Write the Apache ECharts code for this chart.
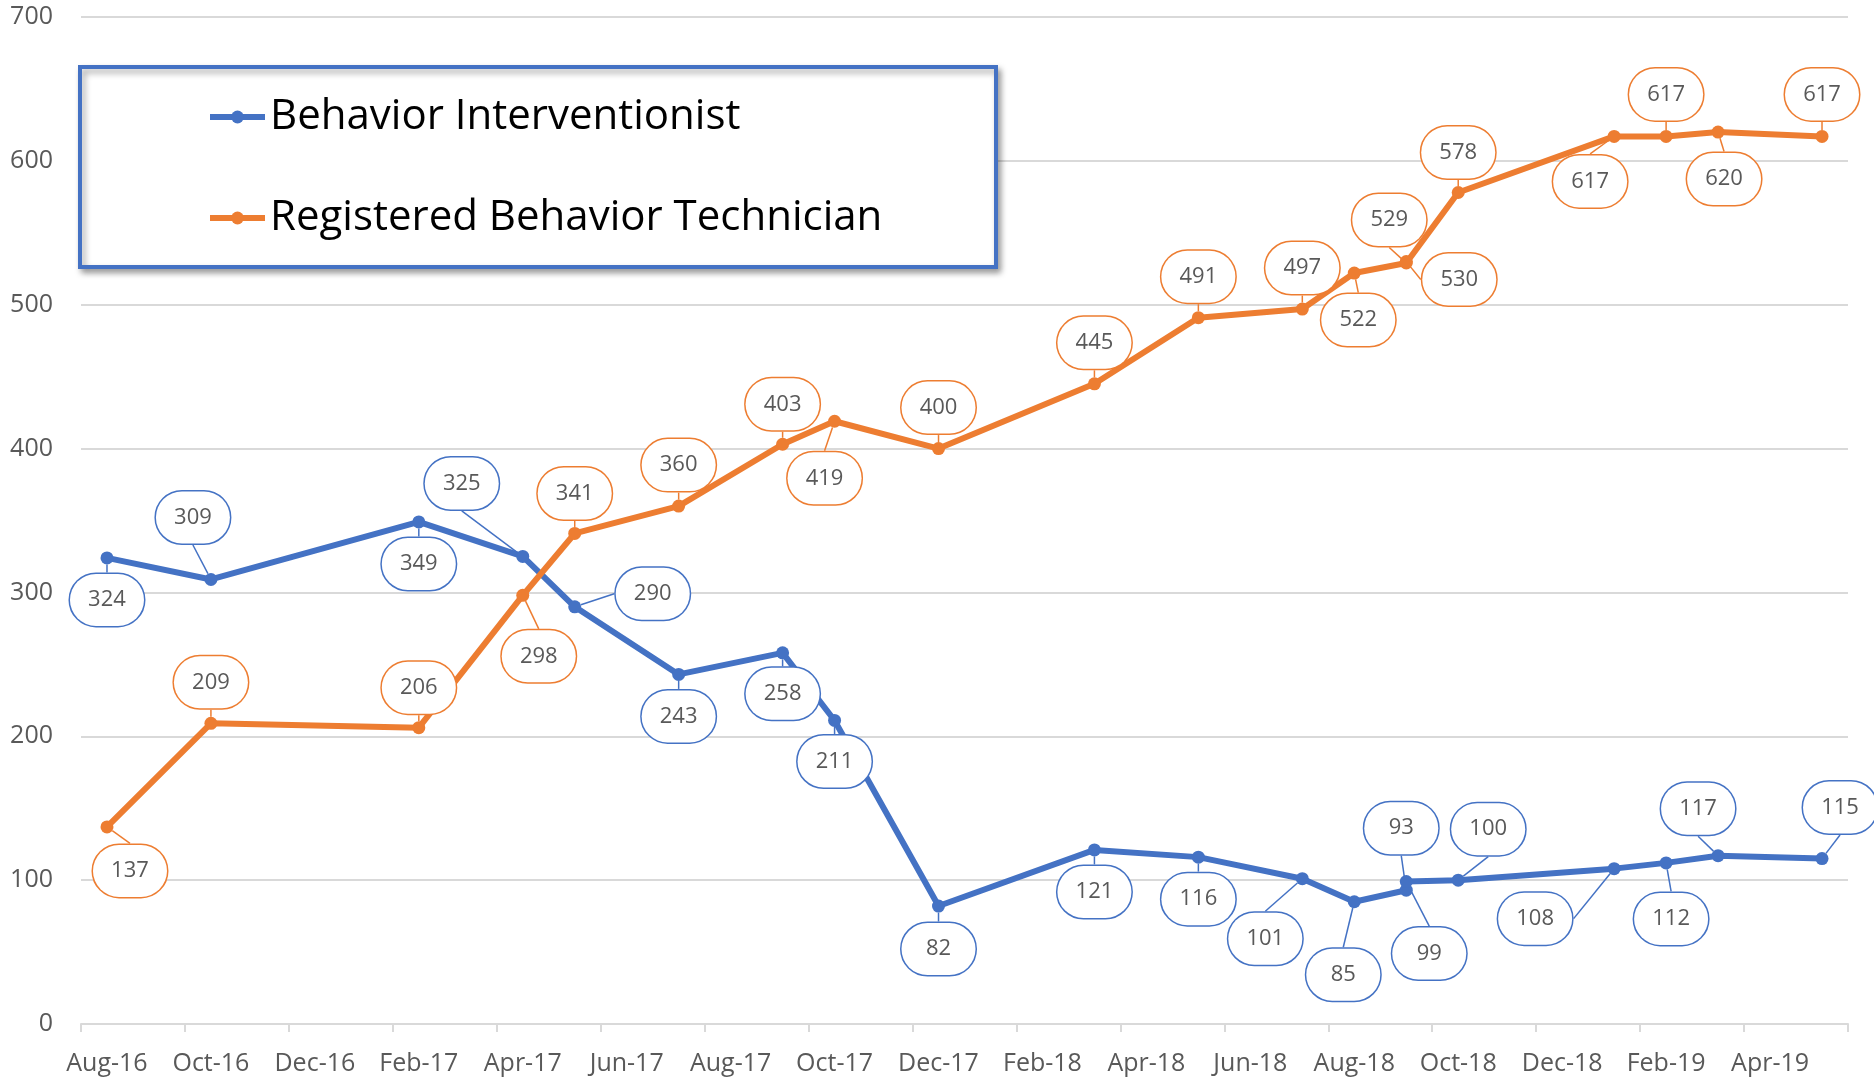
<!DOCTYPE html>
<html>
<head>
<meta charset="utf-8">
<script src="https://cdn.jsdelivr.net/npm/echarts@6/dist/echarts.min.js"></script>
<style>
  html, body { margin: 0; padding: 0; background: #fff; }
  #myChart { width: 1874px; height: 1081px; }
</style>
</head>
<body>
<div id="myChart"></div>
<script>
// months on the date axis (one category per month)
var months = [
  'Aug-16', 'Sep-16', 'Oct-16', 'Nov-16', 'Dec-16', 'Jan-17', 'Feb-17', 'Mar-17',
  'Apr-17', 'May-17', 'Jun-17', 'Jul-17', 'Aug-17', 'Sep-17', 'Oct-17', 'Nov-17',
  'Dec-17', 'Jan-18', 'Feb-18', 'Mar-18', 'Apr-18', 'May-18', 'Jun-18', 'Jul-18',
  'Aug-18', 'Sep-18', 'Oct-18', 'Nov-18', 'Dec-18', 'Jan-19', 'Feb-19', 'Mar-19',
  'Apr-19', 'May-19'
];

// dates of the observations (two in Sep-18)
var obsMonths = [
  'Aug-16', 'Oct-16', 'Feb-17', 'Apr-17', 'May-17', 'Jul-17', 'Sep-17', 'Oct-17',
  'Dec-17', 'Mar-18', 'May-18', 'Jul-18', 'Aug-18', 'Sep-18', 'Sep-18', 'Oct-18',
  'Jan-19', 'Feb-19', 'Mar-19', 'May-19'
];

var biValues = [324, 309, 349, 325, 290, 243, 258, 211, 82, 121, 116, 101, 85, 93, 99, 100, 108, 112, 117, 115];
var rbtValues = [137, 209, 206, 298, 341, 360, 403, 419, 400, 445, 491, 497, 522, 529, 530, 578, 617, 617, 620, 617];

// callout offsets (label centre relative to the point, px)
var biOffsets = [
  [0, 42], [-18, -62], [0, 42], [-61, -73], [78, -13], [0, 42], [0, 41], [0, 41],
  [0, 43], [0, 42], [0, 42], [-37, 60], [-11, 73], [-5, -62], [23, 72], [30, -51],
  [-79, 50], [5, 56], [-20, -47], [18, -51]
];
var rbtOffsets = [
  [23, 44], [0, -41], [0, -40], [16, 61], [0, -40], [0, -41], [0, -40], [-10, 57],
  [0, -41], [0, -41], [0, -41], [0, -41], [4, 47], [-17, -43], [53, 18], [0, -40],
  [-24, 45], [0, -42], [6, 47], [0, -42]
];

var BLUE = '#4472C4';
var ORANGE = '#ED7D31';
var FONT = '"Open Sans", "Noto Sans", sans-serif';

function pairs (vals) {
  return vals.map(function (v, i) { return [obsMonths[i], v]; });
}

function makeSeries (name, vals, color, offsets) {
  return {
    name: name,
    type: 'line',
    data: pairs(vals),
    symbol: 'circle',
    symbolSize: 13,
    color: color,
    lineStyle: { width: 6, color: color },
    itemStyle: { color: color },
    label: {
      show: true,
      position: 'inside',
      formatter: function (p) { return p.value[1]; },
      fontFamily: FONT,
      fontSize: 22,
      color: '#595959',
      backgroundColor: '#fff',
      borderColor: color,
      borderWidth: 1.5,
      width: 74,
      height: 52,
      lineHeight: 52,
      align: 'center',
      verticalAlign: 'middle',
      borderRadius: 37
    },
    labelLine: {
      show: true,
      lineStyle: { color: color, width: 1.5 }
    },
    labelLayout: function (params) {
      var o = offsets[params.dataIndex];
      return { dx: o[0], dy: o[1] };
    },
    emphasis: { disabled: true },
    animation: false
  };
}

var myChart = echarts.init(document.getElementById('myChart'));

var option = {
  backgroundColor: '#fff',
  animation: false,
  grid: { left: 81, right: 26, top: 17, bottom: 57, containLabel: false },
  graphic: [{
    type: 'rect',
    z: 3,
    shape: { x: 80, y: 67, width: 916, height: 200 },
    style: {
      fill: '#fff',
      stroke: BLUE,
      lineWidth: 4,
      shadowBlur: 6,
      shadowOffsetX: 3,
      shadowOffsetY: 4,
      shadowColor: 'rgba(0,0,0,0.35)'
    }
  }],
  legend: {
    z: 5,
    orient: 'vertical',
    left: 207,
    top: 93,
    padding: 0,
    itemGap: 53,
    itemWidth: 55,
    itemHeight: 16,
    lineStyle: { width: 6 },
    textStyle: {
      fontFamily: FONT,
      fontSize: 42,
      lineHeight: 48,
      color: '#000'
    },
    data: ['Behavior Interventionist', 'Registered Behavior Technician']
  },
  xAxis: {
    type: 'category',
    data: months,
    boundaryGap: true,
    axisLine: { lineStyle: { color: '#d9d9d9', width: 2 } },
    axisTick: { show: true, interval: 1, length: 8, lineStyle: { color: '#d9d9d9', width: 2 } },
    axisLabel: {
      interval: 1,
      margin: 27,
      fontFamily: FONT,
      fontSize: 25,
      color: '#595959'
    },
    splitLine: { show: false }
  },
  yAxis: {
    type: 'value',
    min: 0,
    max: 700,
    interval: 100,
    axisLine: { show: false },
    axisTick: { show: false },
    axisLabel: {
      margin: 28,
      fontFamily: FONT,
      fontSize: 25,
      color: '#595959'
    },
    splitLine: { lineStyle: { color: '#d9d9d9', width: 2 } }
  },
  series: [
    makeSeries('Behavior Interventionist', biValues, BLUE, biOffsets),
    makeSeries('Registered Behavior Technician', rbtValues, ORANGE, rbtOffsets)
  ]
};

myChart.setOption(option);
</script>
</body>
</html>
